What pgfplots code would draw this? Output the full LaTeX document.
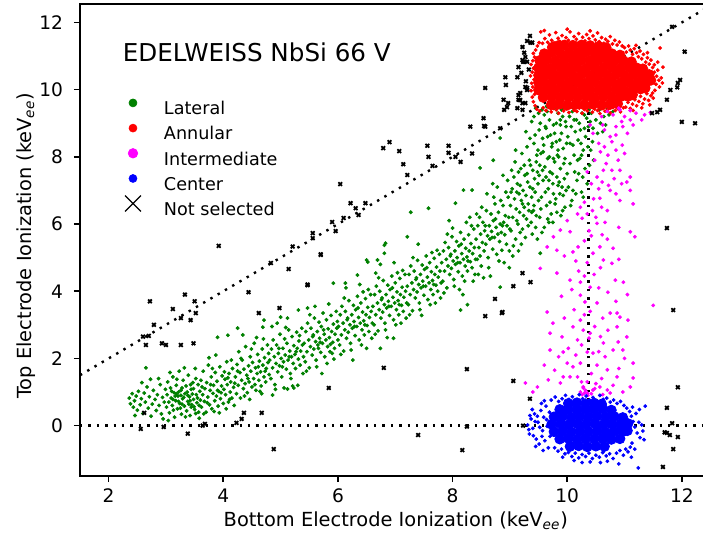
\documentclass[border=0pt]{standalone}
\usepackage{fontspec}
\setmainfont{DejaVu Sans}
\usepackage{pgfplots}
\pgfplotsset{compat=1.18}
\definecolor{mplgreen}{RGB}{0,128,0}
\definecolor{mplred}{RGB}{255,0,0}
\definecolor{mplmag}{RGB}{255,0,255}
\definecolor{mplblue}{RGB}{0,0,255}
\pgfplotsset{
  legmark/.style={legend image code/.code={\path[draw=none,fill=none] (0bp,-2bp) rectangle (20bp,8bp); \draw[##1] plot coordinates {(6bp,3.3bp)};}},
  refline/.style={black, line width=1.2bp, dash pattern=on 1.2bp off 3bp, forget plot},
}
\begin{document}
\begin{tikzpicture}
\begin{axis}[
  name=ax, scale only axis, width=312.1bp, height=236bp,
  xmin=1.5, xmax=12.39, ymin=-1.5, ymax=12.55,
  xtick={2,4,6,8,10,12}, ytick={0,2,4,6,8,10,12},
  tick pos=left, tick align=outside, major tick length=3bp,
  tick style={black, line width=0.8bp},
  axis line style={line width=0.8bp},
  tick label style={font=\fontsize{9.3bp}{11bp}\selectfont},
  yticklabel style={xshift=-2bp},
  /pgf/number format/assume math mode=true,
  label style={font=\fontsize{9.7bp}{11.5bp}\selectfont},
  xlabel={Bottom Electrode Ionization (keV\textsubscript{\itshape ee})},
  ylabel={Top Electrode Ionization (keV\textsubscript{\itshape ee})},
  xlabel style={at={(axis description cs:0.506,-0.095)}, anchor=center},
  ylabel style={at={(axis description cs:-0.0867,0.488)}, anchor=center},
  legend style={at={(axis cs:2.215,9.885)}, anchor=north west, draw=none, fill=none,
    inner sep=0pt, outer sep=0pt, row sep=0.5bp, column sep=0pt,
    font=\fontsize{8.8bp}{10bp}\selectfont, nodes={inner sep=0pt},
    /tikz/every odd column/.append style={column sep=1.5bp}},
  legend cell align=left,
]
% Lateral
\addplot[legmark, only marks, mark=*, mark size=0.82bp, line width=0.3bp, color=mplgreen, legend image post style={mark size=2bp}] coordinates {
(2.36,0.82)(2.38,0.65)(2.41,0.95)(2.43,0.55)(2.45,0.74)(2.48,0.88)(2.50,0.46)(2.52,1.02)(2.55,0.62)(2.57,0.80)(2.60,0.36)(2.62,0.97)(2.64,0.70)(2.67,1.15)(2.69,0.52)(2.71,0.86)(2.74,0.28)(2.76,0.64)(2.78,1.05)(2.81,0.78)(2.83,0.45)(2.85,0.92)(2.88,0.60)(2.90,1.22)(2.92,0.35)(2.94,0.84)(2.97,0.70)(2.99,1.08)(2.65,1.72)(2.73,1.38)(2.58,1.28)(2.46,0.30)(2.87,1.40)(2.95,0.20)
(3.01,0.55)(3.02,0.92)(3.03,1.30)(3.05,0.70)(3.06,0.38)(3.08,1.12)(3.09,0.82)(3.11,0.60)(3.12,1.45)(3.14,0.98)(3.15,0.25)(3.17,0.74)(3.18,1.20)(3.20,0.50)(3.21,0.88)(3.23,1.62)(3.24,0.66)(3.26,1.05)(3.27,0.34)(3.29,0.80)(3.30,1.35)(3.32,0.58)(3.33,0.95)(3.35,1.18)(3.36,0.44)(3.38,0.72)(3.39,1.50)(3.41,0.86)(3.42,0.30)(3.44,1.08)(3.45,0.62)(3.47,1.28)(3.48,0.78)(3.50,0.48)(3.51,1.70)(3.53,0.92)(3.54,0.68)(3.56,1.22)(3.57,0.40)(3.59,1.02)(3.60,0.76)(3.04,0.15)(3.10,1.02)(3.13,0.46)(3.16,0.88)(3.19,1.38)(3.22,0.72)(3.25,0.52)(3.28,1.12)(3.31,0.84)(3.34,0.26)(3.37,1.00)(3.40,0.64)(3.43,1.22)(3.46,0.94)(3.49,0.56)(3.52,1.40)(3.55,0.82)(3.58,0.22)(3.07,1.58)(3.18,0.95)(3.28,0.64)(3.38,0.90)(3.48,1.10)(3.58,0.60)(3.12,0.78)(3.22,1.00)(3.32,1.72)(3.42,0.74)(3.52,0.36)(3.44,0.55)(3.26,0.90)
(3.61,1.35)(3.62,0.55)(3.64,0.92)(3.65,1.62)(3.67,0.72)(3.68,1.10)(3.70,0.40)(3.71,1.28)(3.73,0.85)(3.74,1.80)(3.76,0.62)(3.77,1.05)(3.79,1.45)(3.80,0.50)(3.82,0.96)(3.83,1.20)(3.85,0.74)(3.86,1.58)(3.88,0.88)(3.89,1.32)(3.91,0.58)(3.92,1.02)(3.94,1.75)(3.95,0.80)(3.97,1.18)(3.98,1.48)(4.00,0.66)(4.01,1.08)(4.03,1.38)(4.04,0.92)(4.06,1.90)(4.07,1.22)(4.09,0.70)(4.10,1.55)(4.12,1.00)(4.13,1.30)(4.15,0.82)(4.16,1.70)(4.18,1.14)(4.19,0.60)(3.63,1.15)(3.66,0.35)(3.72,0.68)(3.78,1.22)(3.84,0.42)(3.90,1.05)(3.96,0.98)(4.02,1.60)(4.08,1.42)(4.14,1.95)(4.20,1.26)(3.75,2.02)(3.87,2.10)(4.05,0.50)(3.93,0.38)(3.81,1.70)(4.11,0.78)(3.90,2.63)(4.08,2.69)
(4.21,1.45)(4.23,0.95)(4.24,1.82)(4.26,1.20)(4.27,2.20)(4.29,1.58)(4.30,0.82)(4.32,1.35)(4.33,1.95)(4.35,1.10)(4.36,1.68)(4.38,1.25)(4.39,2.35)(4.41,1.50)(4.42,0.98)(4.44,1.78)(4.45,1.30)(4.47,2.05)(4.48,1.62)(4.50,1.15)(4.51,1.88)(4.53,1.40)(4.54,2.45)(4.56,1.72)(4.57,1.05)(4.59,1.55)(4.60,2.12)(4.62,1.35)(4.63,1.92)(4.65,1.60)(4.66,1.18)(4.68,2.28)(4.69,1.80)(4.71,1.45)(4.72,2.02)(4.74,1.30)(4.75,1.70)(4.77,2.40)(4.78,1.88)(4.80,1.52)(4.25,1.62)(4.31,2.00)(4.37,0.88)(4.43,1.40)(4.49,2.28)(4.55,1.22)(4.61,1.75)(4.67,0.95)(4.73,1.62)(4.79,2.15)(4.34,2.70)(4.58,2.62)(4.46,0.78)(4.64,1.02)(4.70,2.58)(4.25,2.90)(4.69,2.93)(4.71,3.14)
(4.81,1.95)(4.83,1.40)(4.84,2.28)(4.86,1.72)(4.87,2.55)(4.89,2.05)(4.90,1.22)(4.92,1.85)(4.93,2.40)(4.95,1.60)(4.96,2.15)(4.98,1.78)(4.99,2.72)(5.01,2.00)(5.02,1.45)(5.04,2.30)(5.05,1.90)(5.07,2.58)(5.08,2.10)(5.10,1.68)(5.11,2.45)(5.13,1.95)(5.14,2.85)(5.16,2.22)(5.17,1.55)(5.19,2.05)(5.20,2.65)(5.22,1.85)(5.23,2.38)(5.25,2.12)(5.26,1.70)(5.28,2.78)(5.29,2.30)(5.31,1.98)(5.32,2.52)(5.34,1.80)(5.35,2.22)(5.37,2.90)(5.38,2.40)(5.40,2.05)(4.85,2.95)(4.91,1.08)(4.97,2.30)(5.03,1.75)(5.09,2.92)(5.15,2.05)(5.21,1.18)(5.27,2.20)(5.33,2.68)(5.39,1.55)(5.06,1.12)(5.18,1.40)(5.12,3.20)(5.30,1.20)(4.94,3.05)(5.00,3.23)(5.31,3.44)(4.86,0.91)(5.12,1.09)(5.23,1.12)
(5.41,2.45)(5.43,1.90)(5.44,2.80)(5.46,2.20)(5.47,3.05)(5.49,2.55)(5.50,1.72)(5.52,2.35)(5.53,2.90)(5.55,2.10)(5.56,2.65)(5.58,2.28)(5.59,3.20)(5.61,2.50)(5.62,1.95)(5.64,2.80)(5.65,2.40)(5.67,3.08)(5.68,2.60)(5.70,2.18)(5.71,2.95)(5.73,2.45)(5.74,3.35)(5.76,2.72)(5.77,2.05)(5.79,2.55)(5.80,3.15)(5.82,2.35)(5.83,2.88)(5.85,2.62)(5.86,2.20)(5.88,3.28)(5.89,2.80)(5.91,2.48)(5.92,3.02)(5.94,2.30)(5.95,2.72)(5.97,3.40)(5.98,2.90)(6.00,2.55)(5.45,1.62)(5.51,3.30)(5.57,2.70)(5.63,1.75)(5.69,2.48)(5.75,2.85)(5.81,1.85)(5.87,2.42)(5.93,1.98)(5.99,3.10)(5.60,3.55)(5.84,3.62)(5.72,1.55)(5.90,2.15)(5.66,2.30)(5.47,3.50)(5.92,4.24)
(6.01,2.95)(6.03,2.40)(6.04,3.30)(6.06,2.70)(6.07,3.55)(6.09,3.05)(6.10,2.22)(6.12,2.85)(6.13,3.40)(6.15,2.60)(6.16,3.15)(6.18,2.78)(6.19,3.72)(6.21,3.00)(6.22,2.45)(6.24,3.30)(6.25,2.90)(6.27,3.58)(6.28,3.10)(6.30,2.68)(6.31,3.45)(6.33,2.95)(6.34,3.85)(6.36,3.22)(6.37,2.55)(6.39,3.05)(6.40,3.65)(6.42,2.85)(6.43,3.38)(6.45,3.12)(6.46,2.70)(6.48,3.78)(6.49,3.30)(6.51,2.98)(6.52,3.52)(6.54,2.80)(6.55,3.22)(6.57,3.90)(6.58,3.40)(6.60,3.05)(6.05,2.12)(6.11,3.80)(6.17,3.20)(6.23,2.25)(6.29,2.95)(6.35,3.50)(6.41,2.40)(6.47,3.00)(6.53,4.05)(6.59,2.60)(6.14,4.10)(6.38,4.20)(6.26,1.95)(6.50,2.30)(6.44,3.98)(6.13,4.24)(6.34,4.48)(6.50,4.93)(6.52,4.87)
(6.61,3.55)(6.63,3.00)(6.64,3.90)(6.66,3.30)(6.67,4.15)(6.69,3.65)(6.70,2.82)(6.72,3.45)(6.73,4.00)(6.75,3.20)(6.76,3.75)(6.78,3.38)(6.79,4.32)(6.81,3.60)(6.82,3.05)(6.84,3.90)(6.85,3.50)(6.87,4.18)(6.88,3.70)(6.90,3.28)(6.91,4.05)(6.93,3.55)(6.94,4.45)(6.96,3.82)(6.97,3.15)(6.99,3.65)(7.00,4.25)(7.02,3.45)(7.03,3.98)(7.05,3.72)(7.06,3.30)(7.08,4.38)(7.09,3.90)(7.11,3.58)(7.12,4.12)(7.14,3.40)(7.15,3.82)(7.17,4.50)(7.18,4.00)(7.20,3.65)(6.65,2.72)(6.71,4.40)(6.77,3.80)(6.83,2.85)(6.89,3.55)(6.95,4.10)(7.01,3.00)(7.07,3.60)(7.13,4.62)(7.19,3.20)(6.74,4.80)(6.98,4.85)(6.86,2.62)(7.10,3.05)(7.04,4.55)(6.69,4.93)(6.81,5.37)(6.81,5.13)(6.66,4.54)(6.83,5.43)(6.97,2.60)(6.74,2.30)
(7.21,4.15)(7.23,3.60)(7.24,4.50)(7.26,3.90)(7.27,4.75)(7.29,4.25)(7.30,3.42)(7.32,4.05)(7.33,4.60)(7.35,3.80)(7.36,4.35)(7.38,3.98)(7.39,4.92)(7.41,4.20)(7.42,3.65)(7.44,4.50)(7.45,4.10)(7.47,4.78)(7.48,4.30)(7.50,3.88)(7.51,4.65)(7.53,4.15)(7.54,5.05)(7.56,4.42)(7.57,3.75)(7.59,4.25)(7.60,4.85)(7.62,4.05)(7.63,4.58)(7.65,4.32)(7.66,3.90)(7.68,4.98)(7.69,4.50)(7.71,4.18)(7.72,4.72)(7.74,4.00)(7.75,4.42)(7.77,5.10)(7.78,4.60)(7.80,4.25)(7.25,3.30)(7.31,5.00)(7.37,4.40)(7.43,3.45)(7.49,4.15)(7.55,4.70)(7.61,3.60)(7.67,4.20)(7.73,5.22)(7.79,3.80)(7.27,6.35)(7.58,6.47)(7.46,3.28)(7.70,3.65)(7.64,5.15)(7.40,5.40)(7.21,5.62)
(7.81,4.85)(7.83,4.30)(7.84,5.20)(7.86,4.60)(7.87,5.45)(7.89,4.95)(7.90,4.10)(7.92,4.75)(7.93,5.30)(7.95,4.50)(7.96,5.05)(7.98,4.68)(7.99,5.62)(8.01,4.90)(8.02,4.35)(8.04,5.20)(8.05,4.80)(8.07,5.48)(8.08,5.00)(8.10,4.58)(8.11,5.35)(8.13,4.85)(8.14,5.75)(8.16,5.12)(8.17,4.45)(8.19,4.95)(8.20,5.55)(8.22,4.75)(8.23,5.28)(8.25,5.02)(8.26,4.60)(8.28,5.68)(8.29,5.20)(8.31,4.88)(8.32,5.42)(8.34,4.70)(8.35,5.12)(8.37,5.85)(8.38,5.30)(8.40,4.95)(7.85,3.95)(7.91,5.70)(7.97,5.10)(8.03,4.15)(8.09,4.85)(8.15,5.40)(8.21,4.30)(8.27,4.90)(8.33,5.95)(8.39,4.50)(8.05,6.62)(7.94,6.10)(8.12,4.05)(8.36,4.30)(8.24,6.05)(8.18,3.90)(8.00,5.88)(8.30,6.20)(8.19,7.01)(8.34,7.01)(8.14,3.44)(8.26,3.60)
(8.41,5.55)(8.43,4.95)(8.44,5.95)(8.46,5.30)(8.47,6.20)(8.49,5.70)(8.50,4.75)(8.52,5.45)(8.53,6.05)(8.55,5.20)(8.56,5.80)(8.58,5.40)(8.59,6.40)(8.61,5.65)(8.62,5.00)(8.64,5.95)(8.65,5.55)(8.67,6.30)(8.68,5.78)(8.70,5.25)(8.71,6.10)(8.73,5.60)(8.74,6.60)(8.76,5.90)(8.77,5.10)(8.79,5.70)(8.80,6.35)(8.82,5.48)(8.83,6.00)(8.85,5.75)(8.86,5.22)(8.88,6.55)(8.89,6.05)(8.91,5.68)(8.92,6.25)(8.94,5.40)(8.95,5.95)(8.97,6.80)(8.98,6.20)(9.00,5.85)(8.45,4.50)(8.51,6.50)(8.57,5.95)(8.63,4.70)(8.69,5.60)(8.75,6.15)(8.81,4.90)(8.87,5.95)(8.93,6.95)(8.99,5.20)(8.60,6.90)(8.78,7.10)(8.66,4.45)(8.90,4.85)(8.84,6.70)(8.48,5.05)(8.72,6.80)(8.96,7.30)(8.54,4.40)(8.42,6.30)(8.88,7.45)(8.70,7.20)(8.99,4.70)(8.48,7.67)(8.71,7.90)(8.83,8.56)(8.83,4.12)
(9.01,6.55)(9.02,5.80)(9.04,7.05)(9.05,6.20)(9.07,7.40)(9.08,6.75)(9.10,5.55)(9.11,6.45)(9.13,7.20)(9.14,6.00)(9.16,6.90)(9.17,6.35)(9.19,7.65)(9.20,6.70)(9.22,5.85)(9.23,7.00)(9.25,6.50)(9.26,7.45)(9.28,6.85)(9.29,6.15)(9.31,7.25)(9.32,6.60)(9.34,7.90)(9.35,7.10)(9.37,6.05)(9.38,6.80)(9.40,7.60)(9.41,6.40)(9.43,7.35)(9.44,6.95)(9.46,6.25)(9.47,8.05)(9.49,7.20)(9.50,6.70)(9.03,7.60)(9.06,5.35)(9.09,7.85)(9.12,6.95)(9.15,5.20)(9.18,7.15)(9.21,8.10)(9.24,6.25)(9.27,5.60)(9.30,8.30)(9.33,6.40)(9.36,7.75)(9.39,5.70)(9.42,8.40)(9.45,5.90)(9.48,7.55)(9.05,5.05)(9.20,5.40)(9.35,8.55)(9.44,8.65)(9.10,8.20)(9.28,8.75)(9.48,5.55)(9.15,7.55)(9.25,7.75)(9.40,7.05)(9.32,5.95)(9.46,7.85)(9.02,6.95)(9.38,6.35)(9.12,6.10)(9.22,6.60)(9.30,7.50)(9.42,6.55)(9.18,5.75)(9.49,8.20)(9.45,9.45)(9.50,9.30)(9.42,9.20)(9.38,9.05)(9.53,5.13)
(9.51,7.45)(9.52,6.20)(9.54,8.10)(9.55,6.80)(9.57,8.55)(9.58,7.30)(9.60,5.90)(9.61,7.70)(9.63,8.85)(9.64,6.55)(9.66,7.95)(9.67,7.05)(9.69,9.10)(9.70,7.55)(9.72,6.30)(9.73,8.30)(9.75,7.20)(9.76,8.95)(9.78,7.85)(9.79,6.60)(9.81,8.45)(9.82,7.40)(9.84,9.30)(9.85,8.00)(9.87,6.90)(9.88,7.65)(9.90,8.70)(9.91,7.10)(9.93,8.25)(9.94,7.80)(9.96,6.50)(9.97,9.05)(9.99,8.40)(10.00,7.50)(9.53,9.00)(9.56,5.75)(9.59,8.35)(9.62,6.95)(9.65,9.35)(9.68,6.05)(9.71,8.65)(9.74,7.50)(9.77,9.45)(9.80,6.75)(9.83,8.05)(9.86,9.50)(9.89,6.25)(9.92,9.20)(9.95,7.35)(9.98,8.90)(9.51,8.80)(9.57,7.60)(9.63,7.40)(9.69,8.00)(9.75,6.05)(9.81,9.00)(9.87,8.50)(9.93,6.85)(9.99,9.55)(9.54,6.45)(9.60,9.25)(9.66,8.60)(9.72,9.55)(9.78,8.70)(9.84,7.15)(9.90,9.40)(9.96,7.95)(9.58,8.15)(9.64,9.50)(9.70,6.65)(9.76,7.95)(9.82,6.35)(9.88,8.95)(9.94,9.45)(9.52,7.75)(9.62,8.90)(9.74,8.40)(9.86,7.25)(9.98,7.00)(9.68,7.30)(9.80,9.60)(9.92,6.40)(9.56,9.40)(9.76,6.90)(9.88,9.10)(9.66,6.15)(9.84,8.20)
(10.01,8.60)(10.02,7.10)(10.04,9.20)(10.05,7.80)(10.07,8.90)(10.08,6.70)(10.10,8.35)(10.11,9.45)(10.13,7.55)(10.14,8.75)(10.16,9.10)(10.17,7.30)(10.19,8.50)(10.20,9.55)(10.22,7.95)(10.23,8.80)(10.25,6.95)(10.26,9.30)(10.28,8.20)(10.29,9.50)(10.31,7.65)(10.32,8.60)(10.34,9.15)(10.35,7.20)(10.37,8.90)(10.38,9.40)(10.03,9.55)(10.06,6.55)(10.09,9.35)(10.12,8.05)(10.15,9.58)(10.18,7.90)(10.21,9.00)(10.24,8.40)(10.27,7.40)(10.30,8.85)(10.33,9.60)(10.36,8.30)(10.39,7.75)(10.05,8.40)(10.15,6.90)(10.25,8.05)(10.35,9.50)(10.10,7.00)(10.20,7.50)(10.30,9.25)(10.40,9.05)(10.12,9.10)(10.28,6.80)
(10.42,9.30)(10.45,8.85)(10.48,9.50)(10.50,9.10)(10.53,8.70)(10.56,9.40)(10.58,9.00)(10.61,9.55)(10.64,9.20)(10.67,8.95)(10.70,9.45)(10.73,9.25)(10.76,9.55)(10.80,9.35)(10.84,9.50)(10.44,8.45)(10.52,9.55)(10.62,8.75)(10.46,7.90)(10.41,8.20)
};
\addlegendentry{Lateral}
% Annular (outer points)
\addplot[legmark, only marks, mark=*, mark size=0.8bp, line width=0.3bp, color=mplred, legend image post style={mark size=2bp}] coordinates {
(9.57,11.38)(9.61,11.52)(9.66,11.41)(9.69,11.63)(9.73,11.47)(9.77,11.39)(9.80,11.70)(9.84,11.53)(9.87,11.44)(9.91,11.61)(9.95,11.40)(9.98,11.55)(10.02,11.47)(10.05,11.72)(10.09,11.42)(10.12,11.58)(10.16,11.50)(10.20,11.67)(10.23,11.41)(10.27,11.56)(10.31,11.45)(10.34,11.64)(10.38,11.52)(10.42,11.40)(10.45,11.60)(10.49,11.48)(10.53,11.69)(10.56,11.43)(10.60,11.55)(10.64,11.38)(10.67,11.50)(10.71,11.44)(10.75,11.58)(10.79,11.36)(10.83,11.47)(10.87,11.33)(10.91,11.42)(10.96,11.30)(9.60,11.76)(10.00,11.80)(10.40,11.75)(9.54,11.72)
(11.00,11.25)(11.03,11.12)(11.07,11.30)(11.10,11.18)(11.14,11.05)(11.17,11.22)(11.21,11.10)(11.24,10.98)(11.27,11.15)(11.30,10.92)(11.33,11.05)(11.37,10.82)(11.40,10.95)(11.43,10.76)(11.46,10.88)(11.49,10.66)(11.52,10.74)(11.20,11.32)(11.40,11.10)(11.62,11.24)(11.67,10.67)(11.58,10.82)
(11.52,10.52)(11.56,10.40)(11.60,10.28)(11.55,10.16)(11.61,10.08)(11.53,9.98)(11.49,9.90)(11.64,10.35)(11.58,10.58)(11.50,10.30)(11.66,10.20)
(11.02,9.48)(11.06,9.62)(11.10,9.44)(11.14,9.57)(11.18,9.70)(11.21,9.52)(11.25,9.65)(11.28,9.80)(11.32,9.58)(11.35,9.72)(11.39,9.88)(11.42,9.68)(11.46,9.82)(11.15,9.38)(11.30,9.46)(11.44,9.55)(11.50,9.75)
(9.58,9.46)(9.63,9.38)(9.67,9.50)(9.72,9.34)(9.76,9.44)(9.81,9.40)(9.85,9.30)(9.90,9.47)(9.94,9.37)(9.99,9.43)(10.03,9.32)(10.08,9.48)(10.12,9.39)(10.17,9.35)(10.21,9.45)(10.26,9.30)(10.30,9.41)(10.35,9.37)(10.39,9.47)(10.44,9.33)(10.48,9.42)(10.53,9.38)(10.57,9.29)(10.62,9.45)(10.66,9.36)(10.71,9.41)(10.75,9.31)(10.80,9.47)(10.84,9.38)(10.89,9.43)(10.93,9.34)(10.98,9.46)
(9.44,9.52)(9.41,9.64)(9.39,9.78)(9.43,9.86)(9.37,9.97)(9.40,10.08)(9.38,10.19)(9.42,10.30)(9.36,10.41)(9.39,10.52)(9.41,10.64)(9.37,10.75)(9.40,10.86)(9.43,10.97)(9.41,11.08)(9.45,11.18)(9.48,11.30)(9.51,11.40)(9.47,9.42)(9.52,9.36)
};
\addlegendentry{Annular}
% Annular (dense core)
\addplot[only marks, mark=*, mark size=2.5bp, color=mplred, forget plot] coordinates {
(9.72,9.55)(9.85,9.57)(10.00,9.54)(10.15,9.56)(10.30,9.55)(10.45,9.57)(10.60,9.54)(10.75,9.56)(10.88,9.58)
(9.58,9.77)(9.73,9.79)(9.88,9.76)(10.03,9.78)(10.18,9.77)(10.33,9.79)(10.48,9.76)(10.63,9.78)(10.78,9.77)(10.93,9.79)(11.06,9.80)(11.14,9.85)
(9.50,9.99)(9.65,10.01)(9.80,9.98)(9.95,10.00)(10.10,9.99)(10.25,10.01)(10.40,9.98)(10.55,10.00)(10.70,9.99)(10.85,10.01)(11.00,9.98)(11.15,10.00)(11.28,10.02)(11.36,10.05)
(9.50,10.21)(9.58,10.23)(9.73,10.20)(9.88,10.22)(10.03,10.21)(10.18,10.23)(10.33,10.20)(10.48,10.22)(10.63,10.21)(10.78,10.23)(10.93,10.20)(11.08,10.22)(11.23,10.21)(11.38,10.23)(11.46,10.28)
(9.50,10.43)(9.65,10.45)(9.80,10.42)(9.95,10.44)(10.10,10.43)(10.25,10.45)(10.40,10.42)(10.55,10.44)(10.70,10.43)(10.85,10.45)(11.00,10.42)(11.15,10.44)(11.30,10.43)(11.43,10.45)
(9.50,10.65)(9.58,10.67)(9.73,10.64)(9.88,10.66)(10.03,10.65)(10.18,10.67)(10.33,10.64)(10.48,10.66)(10.63,10.65)(10.78,10.67)(10.93,10.64)(11.08,10.66)(11.21,10.65)(11.32,10.62)
(9.52,10.87)(9.65,10.89)(9.80,10.86)(9.95,10.88)(10.10,10.87)(10.25,10.89)(10.40,10.86)(10.55,10.88)(10.70,10.87)(10.85,10.89)(10.98,10.86)(11.12,10.83)
(9.60,11.07)(9.73,11.11)(9.88,11.08)(10.03,11.10)(10.18,11.09)(10.33,11.11)(10.48,11.08)(10.63,11.10)(10.78,11.07)(10.92,11.03)
(9.74,11.26)(9.84,11.31)(9.95,11.33)(10.10,11.32)(10.25,11.33)(10.40,11.31)(10.55,11.29)(10.68,11.25)
};
% Intermediate
\addplot[legmark, only marks, mark=*, mark size=0.8bp, line width=0.3bp, color=mplmag, legend image post style={mark size=2.4bp}] coordinates {
(10.92,9.40)(11.10,9.10)(10.96,8.35)(10.89,7.90)(10.71,8.05)(10.63,7.60)(10.78,7.60)(10.92,7.60)(11.04,7.25)(10.61,7.25)(10.75,7.00)(11.10,7.00)(10.57,6.77)(10.92,6.70)(11.15,6.60)(10.23,6.50)(10.18,6.30)(10.35,6.30)(10.26,6.17)(10.44,6.40)(10.52,6.02)(10.70,6.40)(10.66,6.05)(10.00,6.10)(11.10,5.77)(11.18,5.62)(10.61,5.68)(10.05,5.77)(9.88,5.82)(9.76,5.62)(9.65,5.32)(9.82,5.22)(10.10,5.17)(10.19,5.32)(10.45,5.13)(10.63,4.93)(10.78,4.83)(10.57,5.32)(10.80,5.28)(9.53,4.68)(9.82,4.54)(10.05,4.33)(10.23,4.27)(10.40,4.12)(10.84,4.33)(10.98,4.27)(10.71,3.97)(10.23,3.88)(10.31,3.68)(10.52,3.65)(11.50,3.58)(9.65,3.38)(10.75,3.35)(10.92,3.23)(10.23,3.14)(10.10,2.94)(10.28,2.84)(10.71,2.84)(10.87,2.94)(9.91,2.64)(10.18,2.55)(10.63,2.46)(11.04,2.64)(9.70,2.25)(10.35,2.19)(10.80,2.25)(11.15,1.86)(10.00,1.86)(10.52,1.80)(10.70,1.66)(9.93,1.45)(10.18,1.45)(10.87,1.45)(9.48,1.15)(9.88,1.27)(10.28,1.15)(10.35,0.97)(10.45,1.06)(10.23,1.00)(10.57,1.15)(10.75,0.97)(9.27,1.27)(11.10,1.15)
(9.70,2.75)(9.93,2.19)(9.40,1.00)(9.67,1.36)(10.05,1.45)(10.28,1.12)(10.30,0.97)(10.32,1.05)(10.26,0.92)(10.36,0.90)(10.42,0.95)(10.70,1.06)(10.80,1.20)(10.97,1.00)(11.15,1.42)(10.87,3.35)(11.06,3.14)(10.89,2.49)(10.97,2.25)(10.45,2.16)(10.23,1.86)(10.10,1.75)
(10.70,9.35)(10.80,9.25)(10.90,9.45)(11.00,9.20)(11.10,9.38)(11.20,9.30)(11.35,9.25)(11.45,9.32)(10.95,9.05)(10.85,8.90)(11.05,8.70)(10.75,8.60)(11.00,8.10)(10.85,8.20)(10.97,8.90)(11.10,7.40)
(10.55,8.40)(10.65,8.80)(10.48,7.90)(10.58,8.15)(10.82,7.35)(10.68,7.80)(10.52,7.40)(10.46,6.75)(10.60,6.50)(10.85,6.90)(10.45,8.70)(10.78,8.45)(10.42,7.20)(10.72,7.15)(10.62,8.95)(10.50,6.20)(10.38,5.80)(10.30,5.50)(10.42,5.65)(10.35,4.85)(10.47,4.50)(10.30,4.45)(10.55,4.10)(10.40,3.40)(10.48,2.95)(10.38,2.60)(10.55,2.20)(10.42,1.55)(10.60,1.40)(10.35,1.30)(10.50,1.25)
(9.60,1.80)(9.78,1.65)(9.85,2.05)(10.02,2.30)(10.15,2.10)(10.25,2.40)(10.40,2.75)(10.58,2.65)(10.66,2.05)(10.90,1.70)(11.00,2.00)(9.75,3.05)(9.95,3.20)(10.12,3.45)(10.30,3.30)(10.62,3.20)(10.85,3.70)(11.05,3.90)(9.90,3.85)(10.08,4.05)(10.20,4.60)(10.58,4.70)(10.90,4.95)(10.15,4.90)(9.95,5.05)(10.70,5.55)(10.90,5.90)(10.30,6.65)(10.55,7.05)(10.95,7.20)(10.35,7.55)(10.65,8.30)(10.85,8.65)(10.40,8.95)(10.60,9.20)(11.15,8.95)(11.30,9.10)(10.25,1.30)(10.62,0.92)(10.48,1.10)
};
\addlegendentry{Intermediate}
% Center (outer points)
\addplot[legmark, only marks, mark=*, mark size=0.8bp, line width=0.3bp, color=mplblue, legend image post style={mark size=2bp}] coordinates {
(9.31,0.02)(9.34,-0.25)(9.37,0.20)(9.40,-0.08)(9.43,0.35)(9.46,-0.40)(9.49,0.10)(9.51,-0.55)(9.54,0.45)(9.57,-0.15)(9.59,0.25)(9.61,-0.45)(9.63,0.58)(9.65,-0.02)(9.67,-0.66)(9.69,0.40)(9.70,-0.32)(9.39,0.48)(9.45,-0.62)(9.55,0.66)(9.35,0.30)(9.44,0.12)(9.58,-0.74)(9.52,-0.05)(9.64,0.18)(9.60,0.74)(9.33,-0.12)(9.48,0.28)(9.56,-0.32)(9.41,-0.30)
(9.72,0.76)(9.79,0.85)(9.85,0.72)(9.91,0.80)(9.97,0.90)(10.03,0.78)(10.09,0.86)(10.15,0.75)(10.21,0.92)(10.27,0.80)(10.33,0.88)(10.39,0.76)(10.45,0.84)(10.51,0.74)(10.57,0.90)(10.63,0.78)(10.69,0.82)(10.75,0.70)(10.81,0.76)(10.87,0.66)(10.93,0.72)(10.99,0.60)(11.04,0.52)
(11.09,0.42)(11.12,0.28)(11.15,0.12)(11.18,-0.04)(11.20,0.36)(11.22,-0.22)(11.25,0.10)(11.27,-0.36)(11.13,-0.52)(11.10,-0.64)(11.30,0.02)(11.32,-0.16)(11.18,-0.70)(11.06,-0.78)(11.26,0.48)(11.36,0.58)(11.34,-0.42)(11.14,0.55)
(9.78,-0.66)(9.84,-0.76)(9.90,-0.70)(9.96,-0.84)(10.02,-0.80)(10.08,-0.92)(10.14,-0.82)(10.20,-0.96)(10.26,-0.86)(10.32,-0.92)(10.38,-0.82)(10.44,-0.98)(10.50,-0.88)(10.56,-0.94)(10.62,-0.80)(10.68,-0.90)(10.74,-0.84)(10.80,-0.98)(10.86,-0.82)(10.92,-0.74)(10.98,-0.88)(11.02,-0.70)(10.12,-1.04)(10.40,-1.08)(10.70,-1.06)(10.90,-1.14)(11.12,-0.94)(11.24,-1.26)(10.58,-1.10)(9.92,-0.94)(10.26,-1.10)
};
\addlegendentry{Center}
% Center (dense core)
\addplot[only marks, mark=*, mark size=2.5bp, color=mplblue, forget plot] coordinates {
(10.05,-0.62)(10.20,-0.60)(10.35,-0.63)(10.50,-0.61)(10.65,-0.62)
(9.87,-0.40)(10.02,-0.38)(10.17,-0.41)(10.32,-0.39)(10.47,-0.40)(10.62,-0.38)(10.77,-0.41)(10.92,-0.39)
(9.77,-0.18)(9.92,-0.16)(10.07,-0.19)(10.22,-0.17)(10.37,-0.18)(10.52,-0.16)(10.67,-0.19)(10.82,-0.17)(10.97,-0.18)(11.05,-0.15)
(9.73,0.04)(9.88,0.06)(10.03,0.03)(10.18,0.05)(10.33,0.04)(10.48,0.06)(10.63,0.03)(10.78,0.05)(10.93,0.04)(11.06,0.06)
(9.77,0.26)(9.92,0.28)(10.07,0.25)(10.22,0.27)(10.37,0.26)(10.52,0.28)(10.67,0.25)(10.82,0.27)(10.97,0.24)
(9.87,0.48)(10.02,0.50)(10.17,0.47)(10.32,0.49)(10.47,0.48)(10.62,0.50)(10.77,0.46)
(10.02,0.66)(10.17,0.68)(10.32,0.65)(10.47,0.67)(10.60,0.64)
};
% Not selected
\addplot[legmark, only marks, mark=x, mark size=1.3bp, line width=0.9bp, color=black, legend image post style={mark size=5.6bp, line width=0.6bp}] coordinates {
(3.92,5.35)(2.72,3.70)(3.33,3.90)(3.50,3.70)(3.12,3.47)(3.26,3.20)(3.43,3.14)(3.52,3.35)(2.79,3.00)(2.65,2.40)(2.93,2.45)(3.00,2.40)(3.26,2.40)(3.48,2.45)(2.60,2.65)(2.70,2.67)(4.44,3.97)(5.14,4.66)(4.83,4.84)(5.21,5.33)(5.70,5.08)(5.56,5.73)(5.96,5.79)(5.47,4.18)(4.62,3.35)(4.98,3.50)(6.80,1.72)(5.84,1.12)(4.67,0.38)(4.36,0.38)(4.32,0.20)(4.23,0.08)(3.68,0.05)(3.64,0.00)(3.38,-0.24)(2.56,-0.10)(2.96,-0.04)(2.62,0.38)(4.88,-0.70)
(11.85,3.44)(8.57,3.26)(8.86,3.35)(8.25,1.68)(9.06,1.33)(11.93,1.14)(9.35,0.80)(11.74,0.53)(8.25,-0.03)(7.40,-0.28)(8.17,-0.73)(9.23,0.00)(11.70,-0.20)(11.74,-0.22)(11.79,-0.28)(11.83,0.07)(11.93,-0.34)(11.85,-0.70)(11.67,-1.23)
(8.57,10.05)(8.31,8.90)(8.54,9.15)(8.92,10.37)(9.22,11.27)(9.36,11.40)(9.23,10.83)(8.89,9.70)(9.15,9.70)(9.22,9.60)(9.13,9.45)(8.83,8.85)(8.14,7.85)(8.34,8.10)(8.05,8.00)(12.05,11.13)(11.97,10.29)(11.93,10.20)(11.92,10.07)(11.80,9.99)(11.74,9.70)(11.48,9.30)(11.57,9.33)(11.62,9.40)(12.00,9.04)(12.23,9.00)(11.83,11.87)
(6.04,7.19)(6.79,8.26)(6.90,8.44)(7.07,8.17)(7.14,7.78)(7.21,7.46)(7.56,8.33)(7.58,8.00)(7.65,7.73)(7.93,8.33)(7.93,8.12)(8.55,8.92)(9.15,10.67)(9.22,10.88)(9.25,10.83)(9.30,10.83)(9.27,10.97)(9.39,11.40)(9.27,10.08)(9.30,9.99)(9.15,9.84)(9.18,9.69)(8.95,9.48)(9.22,9.40)(8.93,10.14)(9.13,10.37)
(9.18,9.90)(9.30,10.05)(9.27,9.60)(8.90,9.40)(8.97,9.60)(8.57,8.90)(6.22,6.62)(6.31,6.47)(6.36,6.27)(6.48,6.62)(5.90,6.06)(6.10,6.18)(5.56,5.58)(5.70,5.10)(5.47,4.20)(9.22,4.54)(9.36,4.27)(9.06,4.15)(8.74,3.77)(8.87,3.38)(11.74,5.88)(9.20,10.50)(9.28,10.25)(9.33,10.60)(9.25,11.10)(9.35,11.60)(9.30,11.45)
};
\addlegendentry{Not selected}
% reference lines
\addplot[refline] coordinates {(1.5,1.5)(12.6,12.6)};
\addplot[refline] coordinates {(1.5,0)(12.6,0)};
\addplot[refline] coordinates {(10.37,0)(10.37,10.37)};
\node[anchor=base west, inner sep=0pt, font=\fontsize{12.3bp}{14bp}\selectfont] at (axis cs:2.24,10.85) {EDELWEISS NbSi 66 V};
\end{axis}
\pgfresetboundingbox
\path[use as bounding box] ([xshift=-40bp,yshift=-29.5bp]ax.south west) rectangle ([xshift=-0.6bp,yshift=2bp]ax.north east);
\end{tikzpicture}
\end{document}
